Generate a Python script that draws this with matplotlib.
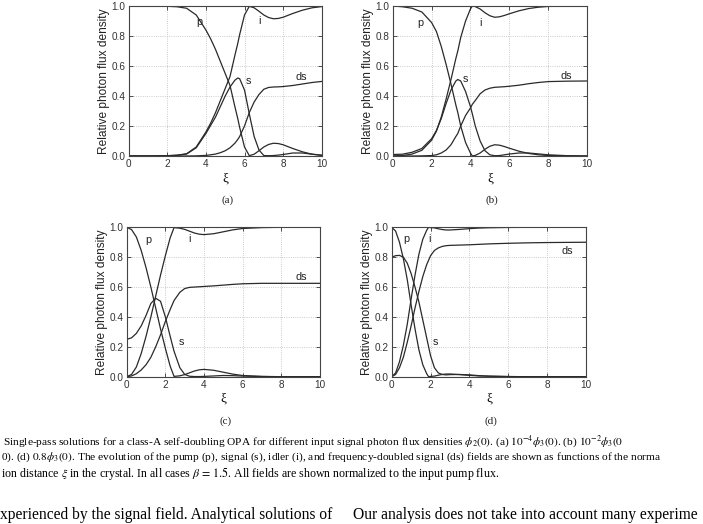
import matplotlib
matplotlib.use("Agg")
import matplotlib.pyplot as plt

plt.rcParams['mathtext.fontset'] = 'stix'
plt.rcParams['font.family'] = ['Liberation Sans', 'DejaVu Sans']

# ---- panel (a): input signal 1e-4 phi3(0) ----
xi_a = [0, 1, 2, 2.5, 3, 3.5, 4, 4.25, 4.5, 4.75, 5, 5.25, 5.5, 5.65, 5.75, 6, 6.25,
        6.5, 6.75, 7, 7.25, 7.5, 7.75, 8, 8.5, 9, 9.5, 10]
p_a = [1.0, 1.0, 0.998, 0.995, 0.985, 0.94, 0.84, 0.78, 0.71, 0.63, 0.55, 0.47, 0.33,
       0.25, 0.19, 0.06, 0.002, 0.012, 0.035, 0.06, 0.077, 0.085, 0.083, 0.075, 0.05,
       0.028, 0.012, 0.004]
i_a = [0.0, 0.0, 0.002, 0.005, 0.015, 0.06, 0.16, 0.22, 0.29, 0.37, 0.45, 0.53, 0.67,
       0.75, 0.81, 0.94, 0.998, 0.988, 0.965, 0.94, 0.923, 0.915, 0.917, 0.925, 0.95,
       0.972, 0.988, 0.996]
s_a = [0.0, 0.0, 0.002, 0.005, 0.013, 0.055, 0.15, 0.205, 0.26, 0.33, 0.40, 0.46, 0.505,
       0.52, 0.515, 0.44, 0.28, 0.13, 0.04, 0.003, 0.002, 0.003, 0.006, 0.01, 0.02,
       0.02, 0.012, 0.006]
ds_a = [0.0, 0.0, 0.0, 0.0, 0.0, 0.001, 0.004, 0.008, 0.013, 0.022, 0.035, 0.055, 0.085,
        0.11, 0.13, 0.2, 0.29, 0.36, 0.41, 0.445, 0.457, 0.46, 0.461, 0.463, 0.47,
        0.48, 0.49, 0.497]

# ---- panel (b): 1e-2 phi3(0) ----
xi_b = [0, 0.5, 1, 1.5, 2, 2.25, 2.5, 2.75, 3, 3.25, 3.35, 3.5, 3.75, 4, 4.1, 4.25,
        4.5, 4.75, 5, 5.25, 5.5, 5.75, 6, 6.5, 7, 7.5, 8, 9, 10]
p_b = [1.0, 0.995, 0.985, 0.96, 0.89, 0.83, 0.73, 0.61, 0.48, 0.34, 0.29, 0.2, 0.09,
       0.02, 0.0, 0.004, 0.02, 0.045, 0.065, 0.075, 0.072, 0.063, 0.052, 0.032, 0.017,
       0.008, 0.003, 0.001, 0.0]
i_b = [0.0, 0.003, 0.013, 0.038, 0.105, 0.165, 0.26, 0.38, 0.51, 0.65, 0.70, 0.79,
       0.9, 0.98, 1.0, 0.996, 0.98, 0.955, 0.935, 0.925, 0.928, 0.937, 0.948, 0.968,
       0.983, 0.992, 0.997, 0.999, 1.0]
s_b = [0.01, 0.012, 0.025, 0.05, 0.115, 0.17, 0.25, 0.35, 0.44, 0.5, 0.51, 0.5, 0.43,
       0.33, 0.28, 0.2, 0.1, 0.035, 0.008, 0.002, 0.003, 0.008, 0.013, 0.02, 0.02,
       0.014, 0.008, 0.002, 0.0]
ds_b = [0.0, 0.0, 0.0, 0.001, 0.003, 0.008, 0.02, 0.04, 0.075, 0.13, 0.15, 0.2, 0.27,
        0.32, 0.345, 0.37, 0.415, 0.44, 0.452, 0.458, 0.46, 0.462, 0.465, 0.472,
        0.482, 0.49, 0.496, 0.499, 0.5]

# ---- panel (c): 0.25 phi3(0) ----
xi_c = [0, 0.25, 0.5, 0.75, 1, 1.25, 1.5, 1.75, 2, 2.25, 2.45, 2.75, 3, 3.25, 3.5,
        3.75, 4, 4.5, 5, 5.5, 6, 7, 8, 9, 10]
p_c = [1.0, 0.985, 0.935, 0.845, 0.73, 0.6, 0.46, 0.32, 0.19, 0.07, 0.002, 0.006,
       0.014, 0.026, 0.038, 0.046, 0.049, 0.043, 0.03, 0.017, 0.008, 0.002, 0.0, 0.0, 0.0]
i_c = [0.0, 0.015, 0.065, 0.155, 0.27, 0.4, 0.54, 0.68, 0.81, 0.93, 0.998, 0.994,
       0.986, 0.974, 0.962, 0.954, 0.951, 0.957, 0.97, 0.983, 0.992, 0.998, 1.0, 1.0, 1.0]
s_c = [0.25, 0.26, 0.29, 0.34, 0.41, 0.49, 0.525, 0.505, 0.4, 0.27, 0.17, 0.06, 0.015,
       0.003, 0.001, 0.001, 0.002, 0.005, 0.008, 0.007, 0.004, 0.001, 0.0, 0.0, 0.0]
ds_c = [0.0, 0.005, 0.02, 0.045, 0.08, 0.13, 0.2, 0.28, 0.37, 0.45, 0.51, 0.565, 0.59,
        0.598, 0.6, 0.602, 0.604, 0.608, 0.613, 0.618, 0.622, 0.625, 0.625, 0.625, 0.625]

# ---- panel (d): 0.8 phi3(0) ----
xi_d = [0, 0.2, 0.4, 0.6, 0.8, 1.0, 1.2, 1.4, 1.6, 1.8, 1.9, 2.0, 2.2, 2.4, 2.6, 2.8,
        3.0, 3.5, 4, 4.5, 5, 6, 7, 8, 9, 10]
p_d = [1.0, 0.975, 0.9, 0.79, 0.65, 0.48, 0.32, 0.18, 0.08, 0.02, 0.0, 0.002, 0.004,
       0.01, 0.015, 0.018, 0.018, 0.014, 0.009, 0.005, 0.003, 0.001, 0.0, 0.0, 0.0, 0.0]
i_d = [0.0, 0.025, 0.1, 0.21, 0.35, 0.52, 0.68, 0.82, 0.92, 0.98, 1.0, 0.998, 0.996,
       0.99, 0.985, 0.982, 0.982, 0.986, 0.991, 0.995, 0.997, 0.999, 1.0, 1.0, 1.0, 1.0]
s_d = [0.8, 0.81, 0.812, 0.8, 0.76, 0.69, 0.6, 0.5, 0.38, 0.26, 0.2, 0.14, 0.06, 0.025,
       0.015, 0.012, 0.014, 0.015, 0.012, 0.007, 0.004, 0.001, 0.0, 0.0, 0.0, 0.0]
ds_d = [0.0, 0.015, 0.06, 0.13, 0.23, 0.34, 0.46, 0.57, 0.67, 0.75, 0.78, 0.81, 0.845,
        0.862, 0.872, 0.877, 0.879, 0.881, 0.883, 0.886, 0.889, 0.893, 0.896, 0.898,
        0.899, 0.9]

# curve label positions (xi, value)
lab_a = {'p': (3.66, 0.895), 'i': (6.8, 0.9), 's': (6.2, 0.5), 'ds': (8.96, 0.524)}
lab_b = {'p': (1.4, 0.89), 'i': (4.52, 0.89), 's': (3.72, 0.513), 'ds': (8.94, 0.536)}
lab_c = {'p': (1.12, 0.917), 'i': (3.24, 0.92), 's': (2.84, 0.234), 'ds': (9.05, 0.665)}
lab_d = {'p': (0.77, 0.92), 'i': (1.94, 0.92), 's': (2.26, 0.23), 'ds': (9.06, 0.84)}

panels = [
    ('(a)', xi_a, [p_a, i_a, s_a, ds_a], lab_a, [128.7, 6, 193, 150]),
    ('(b)', xi_b, [p_b, i_b, s_b, ds_b], lab_b, [392.7, 6, 194.3, 150]),
    ('(c)', xi_c, [p_c, i_c, s_c, ds_c], lab_c, [126.7, 227.3, 193.3, 149.4]),
    ('(d)', xi_d, [p_d, i_d, s_d, ds_d], lab_d, [391.7, 227.3, 194.3, 149.4]),
]

W, H = 703, 524
fig = plt.figure(figsize=(W / 100, H / 100), dpi=100)
line_col = '#2a2a2a'

for tag, xi, curves, labs, (px, py, pw, ph) in panels:
    ax = fig.add_axes([px / W, 1 - (py + ph) / H, pw / W, ph / H])
    for ys in curves:
        ax.plot(xi, ys, color=line_col, lw=0.9)
    for name, (lx, ly) in labs.items():
        ax.text(lx, ly, name, fontsize=7.8, ha='center', va='center', color='#222222')
    ax.set_xlim(0, 10)
    ax.set_ylim(0, 1)
    ax.set_xticks([0, 2, 4, 6, 8, 10])
    ax.set_yticks([0, 0.2, 0.4, 0.6, 0.8, 1.0])
    ax.set_yticklabels(['0.0', '0.2', '0.4', '0.6', '0.8', '1.0'])
    ax.grid(True, ls=':', lw=0.6, color='#bbbbbb')
    ax.tick_params(direction='in', top=True, right=True, length=3, width=0.6,
                   labelsize=7.2, pad=2.5, colors='#333333')
    for sp in ax.spines.values():
        sp.set_linewidth(0.8)
        sp.set_color('#444444')
    ax.set_ylabel('Relative photon flux density', fontsize=8.6, labelpad=1, color='#222222')
    ax.set_xlabel('ξ', fontsize=9.5, family='Liberation Serif', labelpad=2)
    cx = (px + pw / 2 + 2) / W
    fig.text(cx, 1 - (py + ph + 44) / H, tag, fontsize=8, family='Liberation Serif',
             ha='center', va='center', color='#222222')

# caption, only the part that shows inside the scanned page
cap1 = (r"Single-pass solutions for a class-A self-doubling OPA for different input signal "
        r"photon flux densities $\phi_2(0)$. (a) $10^{-4}\phi_3(0)$. (b) $10^{-2}\phi_3(0$")
cap2 = (r"0). (d) $0.8\phi_3(0)$. The evolution of the pump (p), signal (s), idler (i), and "
        r"frequency-doubled signal (ds) fields are shown as functions of the norma")
cap3 = (r"ion distance $\xi$ in the crystal. In all cases $\beta\,=\,1.5$. All fields are shown "
        r"normalized to the input pump flux.")
fig.text(3 / W, 1 - 442 / H, cap1, fontsize=8.2, family='Liberation Serif', va='center')
fig.text(1 / W, 1 - 457.5 / H, cap2, fontsize=8.2, family='Liberation Serif', va='center')
fig.text(1 / W, 1 - 473 / H, cap3, fontsize=8.6, family='Liberation Serif', va='center')

fig.text(0 / W, 1 - 515 / H, "xperienced by the signal field. Analytical solutions of",
         fontsize=11.2, family='Liberation Serif', va='center')
fig.text(352.7 / W, 1 - 515 / H, "Our analysis does not take into account many experime",
         fontsize=11.2, family='Liberation Serif', va='center')

fig.savefig('out.png', dpi=100)
